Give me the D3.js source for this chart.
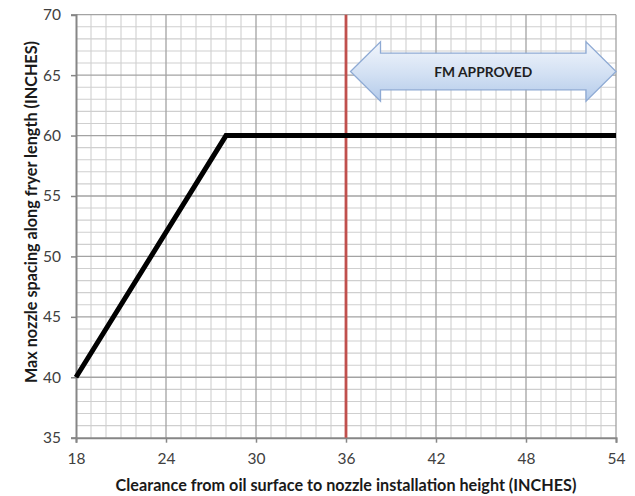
<!DOCTYPE html>
<html>
<head>
<meta charset="utf-8">
<script src="https://cdn.jsdelivr.net/npm/d3@7"></script>
<style>
html,body{margin:0;padding:0;background:#fff;}
svg{display:block;}
</style>
</head>
<body>
<svg id="chart" width="635" height="496"></svg>
<script>
// ---- data ----
const xTicks = [18, 24, 30, 36, 42, 48, 54];
const yTicks = [35, 40, 45, 50, 55, 60, 65, 70];
const lineX = [18, 28, 54];
const lineY = [40, 60, 60];
const fmLimit = [36];
const arrowLabel = ["FM APPROVED"];
const arrowSpanX = [36.3, 54];   // data units
const arrowCenterY = [65.3];
const xTitle = "Clearance from oil surface to nozzle installation height (INCHES)";
const yTitle = "Max nozzle spacing along fryer length (INCHES)";

const W = 635, H = 496;
const m = {left: 76, right: 19, top: 14.7, bottom: 58.3};
const svg = d3.select("#chart");
const x = d3.scaleLinear().domain([18, 54]).range([m.left, W - m.right]);
const y = d3.scaleLinear().domain([35, 70]).range([H - m.bottom, m.top]);

const font = "Lato, 'Open Sans', sans-serif";

// minor grid
const g = svg.append("g");
g.selectAll(".vminor").data(d3.range(19, 54, 1).filter(v => !xTicks.includes(v)))
  .enter().append("line")
  .attr("x1", d => x(d)).attr("x2", d => x(d))
  .attr("y1", y(35)).attr("y2", y(70))
  .attr("stroke", "#cfcfcf").attr("stroke-width", 1.1);
g.selectAll(".hminor").data(d3.range(36, 70, 1).filter(v => !yTicks.includes(v)))
  .enter().append("line")
  .attr("y1", d => y(d)).attr("y2", d => y(d))
  .attr("x1", x(18)).attr("x2", x(54))
  .attr("stroke", "#cfcfcf").attr("stroke-width", 1.1);
// major grid
g.selectAll(".vmajor").data(xTicks.slice(1))
  .enter().append("line")
  .attr("x1", d => x(d)).attr("x2", d => x(d))
  .attr("y1", y(35)).attr("y2", y(70))
  .attr("stroke", "#a3a3a3").attr("stroke-width", 1.3);
g.selectAll(".hmajor").data(yTicks.slice(1))
  .enter().append("line")
  .attr("y1", d => y(d)).attr("y2", d => y(d))
  .attr("x1", x(18)).attr("x2", x(54))
  .attr("stroke", "#a3a3a3").attr("stroke-width", 1.3);

// axes
const xAxis = d3.axisBottom(x).tickValues(xTicks).tickSize(5).tickPadding(10).tickFormat(d3.format("d"));
const yAxis = d3.axisLeft(y).tickValues(yTicks).tickSize(5).tickPadding(10).tickFormat(d3.format("d"));
const gx = svg.append("g").attr("transform", `translate(0,${y(35)})`).call(xAxis);
const gy = svg.append("g").attr("transform", `translate(${x(18)},0)`).call(yAxis);
[gx, gy].forEach(a => {
  a.select(".domain").attr("stroke", "#868686").attr("stroke-width", 2);
  a.selectAll(".tick line").attr("stroke", "#868686").attr("stroke-width", 1.5);
  a.selectAll(".tick text").attr("fill", "#404040").style("font-family", font).style("font-size", "15.5px");
});

// red limit line
svg.selectAll(".limit").data(fmLimit).enter().append("line")
  .attr("x1", d => x(d)).attr("x2", d => x(d))
  .attr("y1", y(35)).attr("y2", y(70))
  .attr("stroke", "#c0504d").attr("stroke-width", 2.8);

// data line
const pts = lineX.map((d, i) => [d, lineY[i]]);
svg.append("path").datum(pts)
  .attr("d", d3.line().x(d => x(d[0])).y(d => y(d[1])))
  .attr("fill", "none").attr("stroke", "#000").attr("stroke-width", 5)
  .attr("stroke-linejoin", "miter");

// arrow annotation
const defs = svg.append("defs");
const grad = defs.append("linearGradient").attr("id", "ag").attr("x1", 0).attr("y1", 0).attr("x2", 0).attr("y2", 1);
grad.append("stop").attr("offset", "0%").attr("stop-color", "#f2f6fc");
grad.append("stop").attr("offset", "55%").attr("stop-color", "#d2e0f3");
grad.append("stop").attr("offset", "100%").attr("stop-color", "#b4cbea");
const xl = x(arrowSpanX[0]), xr = x(arrowSpanX[1]);
const cy = y(arrowCenterY[0]);
const headLen = x(20) - x(18);
const headH = y(35) - y(37.45);
const shaftH = y(35) - y(36.52);
const ap = d3.path();
ap.moveTo(xl, cy);
ap.lineTo(xl + headLen, cy - headH);
ap.lineTo(xl + headLen, cy - shaftH);
ap.lineTo(xr - headLen, cy - shaftH);
ap.lineTo(xr - headLen, cy - headH);
ap.lineTo(xr, cy);
ap.lineTo(xr - headLen, cy + headH);
ap.lineTo(xr - headLen, cy + shaftH);
ap.lineTo(xl + headLen, cy + shaftH);
ap.lineTo(xl + headLen, cy + headH);
ap.closePath();
svg.append("path").attr("d", ap.toString())
  .attr("fill", "url(#ag)").attr("stroke", "#8eaad4").attr("stroke-width", 1.3);
svg.append("text").text(arrowLabel[0])
  .attr("x", (xl + xr) / 2).attr("y", cy + 5)
  .attr("text-anchor", "middle").attr("fill", "#1f1f1f")
  .style("font-family", font).style("font-weight", "bold").style("font-size", "13.8px");

// titles
svg.append("text").text(xTitle)
  .attr("x", 346).attr("y", 491).attr("text-anchor", "middle")
  .attr("fill", "#1a1a1a").style("font-family", font).style("font-weight", "bold").style("font-size", "16.2px");
svg.append("text").text(yTitle)
  .attr("transform", "translate(37,212) rotate(-90)").attr("text-anchor", "middle")
  .attr("fill", "#1a1a1a").style("font-family", font).style("font-weight", "bold").style("font-size", "16.2px");
</script>
</body>
</html>
